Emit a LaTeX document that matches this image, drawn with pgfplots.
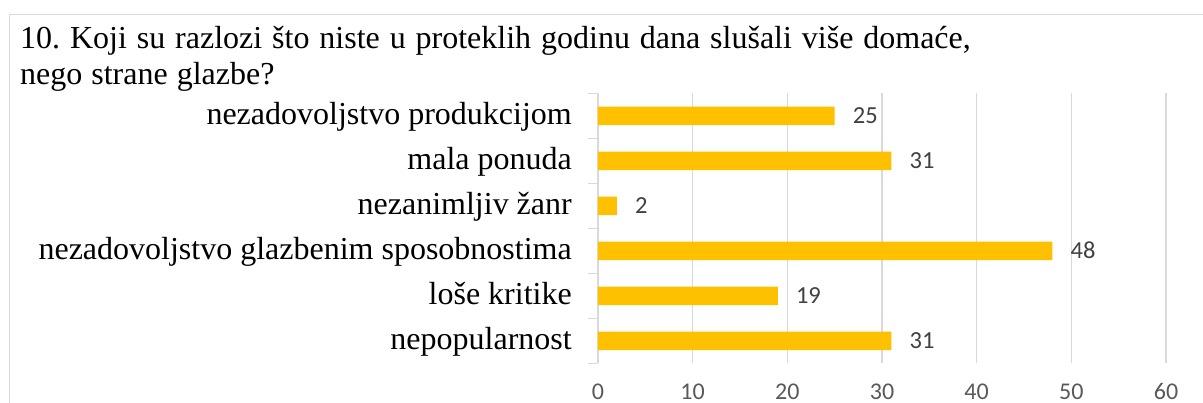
\documentclass[border=0pt]{standalone}
\usepackage{pgfplots}
\pgfplotsset{compat=1.18}
\usepackage{fontspec}
\setmainfont{Liberation Serif}
\newfontfamily\calib{Carlito}
\frenchspacing
\definecolor{barcol}{HTML}{FFC000}
\definecolor{gridc}{HTML}{D9D9D9}
\definecolor{tickc}{HTML}{595959}
\definecolor{valc}{HTML}{404040}
\begin{document}
\begin{tikzpicture}
\useasboundingbox (0,0) rectangle (1203pt,403pt);
\draw[gridc, line width=1.5pt] (9.5pt,-20pt) -- (9.5pt,388.5pt) -- (1230pt,388.5pt);
\node[anchor=base west, inner sep=0pt, font=\fontsize{32}{36}\selectfont] at (20pt,354pt) {\spaceskip=9.9pt plus 0pt minus 0pt 10. Koji su razlozi što niste u proteklih godinu dana slušali više domaće,};
\node[anchor=base west, inner sep=0pt, font=\fontsize{32}{36}\selectfont] at (20pt,318pt) {\spaceskip=9pt plus 0pt minus 0pt nego strane glazbe?};
\begin{axis}[
  at={(598pt,39.5pt)}, anchor=south west,
  scale only axis, width=568pt, height=270pt,
  xbar, bar width=18.5pt,
  xmin=0, xmax=60, ymin=-0.5, ymax=5.5,
  xtick={0,10,...,60},
  ytick={0,1,2,3,4,5},
  yticklabels={nepopularnost, loše kritike, nezadovoljstvo glazbenim sposobnostima, nezanimljiv žanr, mala ponuda, nezadovoljstvo produkcijom},
  minor ytick={-0.5,0.5,...,5.5},
  major tick length=0pt, minor tick length=10pt, tick align=outside,
  minor tick style={gridc, line width=1.3pt},
  axis x line*=bottom, axis y line*=left,
  x axis line style={draw=none},
  y axis line style={draw=gridc, line width=1.3pt},
  xmajorgrids, major grid style={gridc, line width=1.3pt},
  /pgf/number format/assume math mode=true,
  xticklabel style={anchor=base, inner sep=0pt, yshift=-36pt, font=\calib\fontsize{24}{24}\selectfont, text=tickc},
  yticklabel style={anchor=base east, inner sep=0pt, xshift=-26pt, yshift=-9pt, font=\fontsize{32}{36}\selectfont, text=black},
  nodes near coords,
  nodes near coords style={anchor=base west, inner sep=0pt, xshift=18pt, yshift=-8pt, font=\calib\fontsize{24.5}{24.5}\selectfont, text=valc},
]
\addplot[fill=barcol, draw=none] coordinates {(31,0) (19,1) (48,2) (2,3) (31,4) (25,5)};
\end{axis}
\end{tikzpicture}
\end{document}
